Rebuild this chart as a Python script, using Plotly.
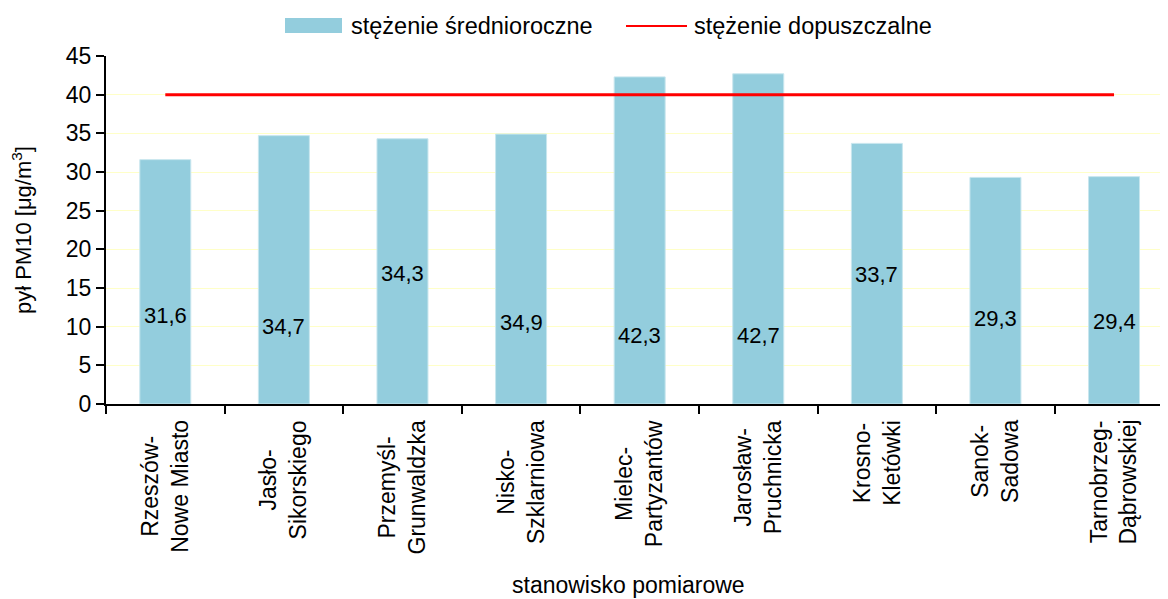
import plotly.graph_objects as go

stations = ["Rzeszów-<br>Nowe Miasto", "Jasło-<br>Sikorskiego", "Przemyśl-<br>Grunwaldzka",
            "Nisko-<br>Szklarniowa", "Mielec-<br>Partyzantów", "Jarosław-<br>Pruchnicka",
            "Krosno-<br>Kletówki", "Sanok-<br>Sadowa", "Tarnobrzeg-<br>Dąbrowskiej"]
annual_mean = [31.6, 34.7, 34.3, 34.9, 42.3, 42.7, 33.7, 29.3, 29.4]
value_labels = ["31,6", "34,7", "34,3", "34,9", "42,3", "42,7", "33,7", "29,3", "29,4"]
limit_value = [40, 40, 40, 40, 40, 40, 40, 40, 40]
y_ticks = [0, 5, 10, 15, 20, 25, 30, 35, 40, 45]

# vertical placement of the in-bar value labels (layout only)
label_pos = [11.5, 10.0, 16.9, 10.5, 8.8, 8.8, 16.7, 11.1, 10.7]

FONT = "Liberation Sans, Arial, sans-serif"
BAR_COLOR = "#93CDDD"
LINE_COLOR = "#FF0000"

# figure geometry (page body has an 8px offset)
OFF = 8
W, H = 1168, 599
L, T, B, R = 106 - OFF, 56 - OFF, H - (404 - OFF), OFF
pw, ph = W - L - R, H - T - B


def px(x_screen):
    return (x_screen - OFF - L) / pw


def py(y_screen):
    return (H - B - (y_screen - OFF)) / ph


fig = go.Figure()
fig.add_trace(go.Bar(
    x=stations, y=annual_mean, name="stężenie średnioroczne", showlegend=False,
    marker=dict(color=BAR_COLOR, line=dict(color="#C8E6EE", width=1)),
    width=0.43,
))
fig.add_trace(go.Scatter(
    x=stations, y=limit_value, name="stężenie dopuszczalne", showlegend=False,
    mode="lines", line=dict(color=LINE_COLOR, width=3),
))

# value labels inside bars
for st, lab, yp in zip(stations, value_labels, label_pos):
    fig.add_annotation(x=st, y=yp, xref="x", yref="y", text=lab, showarrow=False,
                       font=dict(family=FONT, size=22, color="#000000"))

# rotated category labels
for st in stations:
    fig.add_annotation(x=st, y=py(418), xref="x", yref="paper", text=st, showarrow=False,
                       textangle=-90, align="center", xanchor="center", yanchor="top",
                       font=dict(family=FONT, size=23, color="#000000"))

# x axis title
fig.add_annotation(x=px(628), y=py(585), xref="paper", yref="paper", text="stanowisko pomiarowe",
                   showarrow=False, xanchor="center", yanchor="middle",
                   font=dict(family=FONT, size=23, color="#000000"))

# legend (drawn in the page margin, above the plot)
fig.add_shape(type="rect", xref="paper", yref="paper",
              x0=px(285), x1=px(342), y0=py(33), y1=py(18),
              fillcolor=BAR_COLOR, line=dict(width=0))
fig.add_annotation(x=px(349), y=py(26), xref="paper", yref="paper",
                   text="stężenie średnioroczne", showarrow=False,
                   xanchor="left", yanchor="middle",
                   font=dict(family=FONT, size=23.5, color="#000000"))
fig.add_shape(type="line", xref="paper", yref="paper",
              x0=px(626), x1=px(687), y0=py(26), y1=py(26),
              line=dict(color=LINE_COLOR, width=2))
fig.add_annotation(x=px(692), y=py(26), xref="paper", yref="paper",
                   text="stężenie dopuszczalne", showarrow=False,
                   xanchor="left", yanchor="middle",
                   font=dict(family=FONT, size=23.5, color="#000000"))

fig.update_layout(
    width=W, height=H,
    margin=dict(l=L, r=R, t=T, b=B, autoexpand=False),
    paper_bgcolor="white", plot_bgcolor="white",
    font=dict(family=FONT, size=23, color="#000000"),
    showlegend=False,
    xaxis=dict(
        type="category", range=[-0.5, 8.455],
        showticklabels=False, tickson="boundaries", ticks="outside", ticklen=8,
        tickwidth=2, tickcolor="black", showline=True, linecolor="black", linewidth=2,
        showgrid=False, zeroline=False, automargin=False,
    ),
    yaxis=dict(
        range=[0, 45], tickvals=y_ticks, ticks="outside", ticklen=8, tickwidth=2,
        tickcolor="black", showline=True, linecolor="black", linewidth=2,
        showgrid=True, gridcolor="#FFFFC8", gridwidth=1, zeroline=False,
        tickfont=dict(family=FONT, size=23), automargin=False,
        title=dict(text="pył PM10 [μg/m<sup>3</sup>]", font=dict(family=FONT, size=22), standoff=30),
    ),
)

fig.write_html("out.html")
